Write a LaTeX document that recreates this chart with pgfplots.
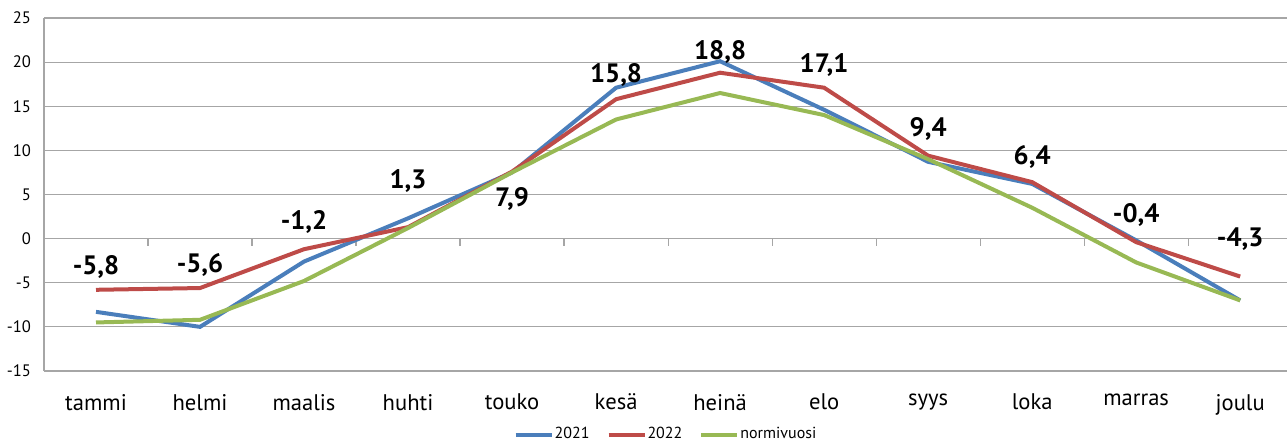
\documentclass[border=0pt]{standalone}
\usepackage{fontspec}
\setmainfont{PT Sans}
\usepackage{pgfplots}
\pgfplotsset{compat=1.18}
\definecolor{c21}{HTML}{4A7EBB}
\definecolor{c22}{HTML}{BE4B48}
\definecolor{cnv}{HTML}{98B954}
\definecolor{gridc}{HTML}{A6A6A6}
\begin{document}
\begin{tikzpicture}
\begin{axis}[
  scale only axis,
  width=621.5pt, height=176.5pt,
  xmin=-0.5, xmax=11.45,
  ymin=-15, ymax=25,
  ytick={-15,-10,-5,0,5,10,15,20,25},
  yticklabels={-15,-10,-5,0,5,10,15,20,25},
  xtick={0,...,11},
  xticklabels={tammi,helmi,maalis,huhti,touko,kesä,heinä,elo,syys,loka,marras,joulu},
  axis y line*=left,
  axis x line*=bottom,
  x axis line style={draw=none},
  y axis line style={gridc, line width=0.6pt},
  xtick style={draw=none},
  ytick style={draw=none},
  ymajorgrids,
  grid style={gridc, line width=0.6pt},
  yticklabel style={font=\fontsize{8.3}{10}\selectfont, xshift=-3pt},
  xticklabel style={font=\fontsize{11.3}{13}\selectfont, yshift=-8pt},
  legend style={at={(0.5,0)}, anchor=north, yshift=-25pt, draw=none, fill=none,
    legend columns=3, font=\fontsize{8}{9}\selectfont, inner sep=1pt,
    nodes={inner xsep=0.5pt},
    /tikz/every even column/.append style={column sep=8pt}},
  legend image code/.code={\draw[#1] (0pt,0pt) -- (18pt,0pt);},
  clip=false,
]
\pgfplotsinvokeforeach{0,...,10}{\draw[gridc, line width=0.6pt] (axis cs:#1.5,0) -- ++(0pt,-3.5pt);}
\addplot[c21, line width=2pt] coordinates {(0,-8.3) (1,-10.0) (2,-2.6) (3,2.3) (4,7.5) (5,17.1) (6,20.1) (7,14.6) (8,8.7) (9,6.2) (10,-0.2) (11,-7.0)};
\addlegendentry{2021}
\addplot[c22, line width=2pt] coordinates {(0,-5.8) (1,-5.6) (2,-1.2) (3,1.3) (4,7.6) (5,15.8) (6,18.8) (7,17.1) (8,9.4) (9,6.4) (10,-0.4) (11,-4.3)};
\addlegendentry{2022}
\addplot[cnv, line width=2pt] coordinates {(0,-9.5) (1,-9.2) (2,-4.8) (3,1.2) (4,7.5) (5,13.5) (6,16.5) (7,14.0) (8,9.0) (9,3.5) (10,-2.7) (11,-7.0)};
\addlegendentry{normivuosi}
\addplot[draw=none, mark=none, forget plot, nodes near coords, point meta=explicit symbolic,
  nodes near coords align={anchor=center},
  every node near coord/.append style={font=\bfseries\fontsize{13.3}{15}\selectfont, inner sep=0pt}]
  coordinates {(0,-3.2) [{-5,8}] (1,-3.0) [{-5,6}] (2,1.9) [{-1,2}] (3,6.5) [{1,3}] (4,4.5) [{7,9}] (5,18.6) [{15,8}] (6,21.2) [{18,8}] (7,19.7) [{17,1}] (8,12.4) [{9,4}] (9,9.3) [{6,4}] (10,2.7) [{-0,4}] (11,-0.1) [{-4,3}]};
\coordinate (bl) at (rel axis cs:0,0);
\coordinate (tr) at (rel axis cs:1,1);
\end{axis}
\pgfresetboundingbox
\path ([shift={(-22pt,-35.5pt)}]bl) rectangle ([shift={(0pt,9pt)}]tr);
\end{tikzpicture}
\end{document}
